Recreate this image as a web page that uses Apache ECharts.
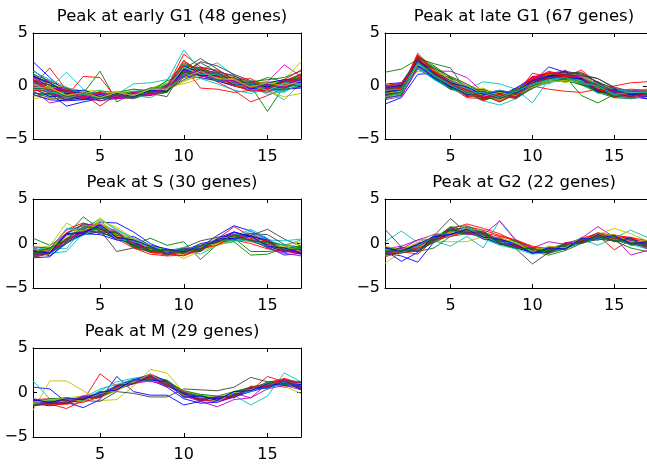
<!DOCTYPE html>
<html>
<head>
<meta charset="utf-8">
<script src="https://cdn.jsdelivr.net/npm/echarts@6/dist/echarts.min.js"></script>
<style>
  html, body { margin: 0; padding: 0; background: #fff; }
  #main { width: 647px; height: 465px; }
</style>
</head>
<body>
<div id="main"></div>
<script>
const timePoints = [1, 2, 3, 4, 5, 6, 7, 8, 9, 10, 11, 12, 13, 14, 15, 16, 17];
const xTicks = [5, 10, 15];
const yTicks = [-5, 0, 5];
const titles = [
  'Peak at early G1 (48 genes)',
  'Peak at late G1 (67 genes)',
  'Peak at S (30 genes)',
  'Peak at G2 (22 genes)',
  'Peak at M (29 genes)'
];

// one row per gene, 17 time points
const earlyG1 = [
  [2.3,0.8,-0.6,-1.0,-1.0,-1.1,-1.0,-0.8,-0.5,1.0,1.1,0.6,0.1,-0.3,-0.1,0.0,0.4],
  [0.5,-0.3,-0.6,-0.7,1.4,-1.5,-0.7,-0.5,-0.2,1.6,1.4,0.9,0.3,0.0,-0.2,0.3,0.9],
  [0.0,1.7,-0.4,-0.9,-0.8,-1.0,-0.9,-0.7,-0.4,1.2,1.0,0.5,0.0,-0.4,-0.3,0.1,0.6],
  [0.6,-0.2,1.3,-0.3,-0.9,-0.7,-0.5,-0.3,0.0,1.8,1.5,0.8,0.2,-0.1,0.2,0.3,0.7],
  [-0.4,-1.6,-1.3,-1.2,-1.1,-1.0,-0.9,-0.6,-0.4,1.1,1.0,0.7,0.3,0.1,0.0,0.2,0.4],
  [-1.2,-1.0,-0.9,-0.8,-0.9,-0.8,-0.7,-0.3,0.2,0.5,0.9,0.8,0.5,0.2,0.1,0.4,1.2],
  [1.0,0.2,-0.5,-0.7,-0.9,-0.8,-0.8,-0.7,-1.0,1.6,2.6,1.6,0.6,0.0,-0.3,-0.1,0.3],
  [0.8,-0.7,-1.9,-1.5,-1.2,-1.0,-0.9,-0.6,-0.3,1.3,1.0,0.6,0.1,-0.2,0.0,0.2,0.5],
  [0.3,-0.1,-0.6,-0.9,-1.0,-1.1,-0.9,-0.4,0.1,1.9,1.7,1.0,0.4,0.1,0.3,0.5,0.8],
  [0.1,-0.4,-0.8,-0.9,-1.0,-0.9,-0.8,-0.6,-0.1,3.0,1.8,1.0,0.2,-0.3,-0.2,0.0,0.6],
  [0.4,-0.3,-0.7,-1.0,-0.8,-0.9,-0.7,-0.5,0.5,3.4,1.5,2.2,1.0,0.3,-0.4,-1.3,0.3],
  [0.2,-0.3,-0.7,-0.8,-0.7,-0.8,-0.7,-0.5,-0.2,1.5,1.3,0.9,0.4,0.2,0.4,2.0,0.9],
  [-0.3,-0.8,-1.0,-1.1,-1.0,-0.9,-0.7,-0.2,0.3,0.9,1.1,0.7,0.3,0.1,0.2,0.6,2.3],
  [0.6,0.1,-0.4,-0.6,-0.7,-0.8,-0.7,-0.6,-0.4,1.7,1.5,1.2,0.7,0.2,-0.1,-0.2,0.2],
  [1.5,0.3,-0.6,-0.9,-1.0,-1.0,-0.9,-0.7,-0.5,0.8,1.2,1.0,0.6,0.1,-0.2,-0.3,-0.2],
  [-0.2,-0.5,-0.8,-0.9,-0.8,-0.7,-0.6,-0.4,-0.1,1.3,1.0,0.6,0.2,0.0,-2.4,0.0,0.5],
  [0.0,-0.6,-1.0,0.9,0.8,-1.2,-0.9,-0.7,-0.3,2.4,1.3,0.4,-0.4,-1.5,-0.9,-0.2,0.4],
  [-0.6,-0.9,-1.1,-1.0,-0.9,-0.8,0.2,0.3,0.6,1.9,1.3,0.8,0.1,-0.3,-0.5,-0.4,0.1],
  [0.9,0.4,-0.2,-0.5,-0.8,-0.9,-0.8,-0.7,-0.5,1.0,1.8,1.4,0.9,0.4,0.1,0.2,0.6],
  [-0.9,-1.2,-1.1,-1.0,-0.9,-0.8,-0.6,-0.4,0.0,0.2,0.7,0.5,0.2,-0.3,-0.6,-1.0,-0.7],
  [0.3,-0.3,-0.9,-1.0,-1.1,-1.0,-0.9,-0.8,-0.6,1.2,2.3,1.9,1.1,0.5,0.2,0.1,0.3],
  [-0.8,-1.3,-1.4,-1.3,-1.2,-1.1,-1.0,-0.8,-0.5,0.9,0.8,0.5,0.0,-0.3,-0.2,0.0,0.3],
  [1.1,0.5,-0.3,-0.6,-0.7,-0.7,-0.6,-0.5,-0.3,1.5,1.6,1.2,0.7,0.4,0.6,0.8,1.4],
  [0.5,-0.2,-0.6,-0.7,-1.9,-0.8,-0.9,-0.9,-0.6,1.8,-0.2,-0.3,-0.6,-0.4,-0.3,0.4,1.0],
  [0.2,-0.6,-0.9,-1.1,-1.2,-1.1,-0.8,-0.3,0.2,2.1,1.6,1.0,0.5,0.0,-0.8,-0.5,0.2],
  [-0.1,-0.7,-1.0,-1.0,-1.0,-1.2,-1.1,-0.8,-0.4,1.4,1.3,1.1,0.6,0.0,-0.2,0.5,1.1],
  [0.7,0.2,-0.2,-0.5,-0.4,-0.7,-0.3,-0.4,0.3,1.1,1.6,1.0,0.8,0.3,0.4,0.2,0.8],
  [-0.6,-1.1,-1.3,-1.1,-1.4,-1.0,-1.2,-0.7,-0.5,0.6,1.2,1.1,0.3,0.2,-0.4,-0.3,-0.1],
  [1.0,-0.2,-0.5,-0.4,-0.9,-0.6,-0.8,-0.2,-0.4,1.9,1.2,0.5,0.5,-0.4,0.1,-0.2,0.6],
  [-0.9,-0.8,-1.3,-0.8,-1.1,-0.6,-0.3,-0.5,0.5,1.0,1.3,0.4,0.7,0.2,0.8,0.4,1.1],
  [0.8,0.3,-0.6,-1.2,-0.5,-0.6,-1.0,-0.9,-0.3,2.0,1.7,1.5,0.6,0.7,-0.2,0.6,1.5],
  [1.4,0.6,-0.1,-0.8,-0.4,-1.1,-0.9,-1.1,-0.4,1.2,0.7,0.2,-0.4,-0.7,-0.3,-0.6,0.3],
  [0.1,-0.6,-1.2,-0.9,-1.4,-1.2,-0.8,-0.9,-0.1,1.6,0.9,0.9,0.0,-0.3,-0.6,0.2,0.0],
  [-0.5,-0.2,-0.9,-0.5,-0.9,-0.5,-0.8,-0.3,-0.4,0.4,1.2,0.7,0.7,0.0,0.3,-0.2,0.9],
  [0.4,0.1,-0.8,-0.6,-1.0,-0.7,-0.9,-0.5,-0.6,1.3,2.2,1.3,1.0,0.0,-0.1,-0.4,0.6],
  [-0.2,-1.0,-0.9,-1.3,-0.8,-1.1,-0.6,-0.8,0.1,0.9,1.5,0.5,0.4,-0.3,0.3,0.6,0.5],
  [1.2,0.0,-0.2,-0.9,-0.6,-0.9,-0.5,-0.7,0.0,2.2,1.5,1.3,0.3,0.3,0.0,0.5,0.4],
  [-0.4,-0.5,-1.1,-0.8,-1.2,-0.8,-0.9,-0.2,-0.2,1.4,1.0,1.0,0.1,-0.5,-0.4,-0.2,0.9],
  [0.3,-0.6,-0.6,-1.0,-0.7,-1.0,-0.5,-0.8,-0.2,1.0,1.3,0.5,0.4,-0.4,-0.1,-0.3,0.4],
  [0.8,-0.2,-0.3,-1.0,-0.7,-1.2,-0.7,-0.9,-0.2,1.5,1.3,1.2,0.3,0.4,-0.2,0.5,0.6],
  [0.1,-0.1,-0.9,-0.7,-1.2,-0.7,-1.0,-0.3,-0.3,1.8,1.1,1.0,0.0,0.0,-0.4,0.2,0.2],
  [-0.7,-0.7,-1.3,-0.9,-1.2,-0.8,-1.1,-0.4,-0.5,0.8,1.6,0.9,0.8,-0.1,0.1,-0.2,0.4],
  [0.9,0.3,-0.7,-0.6,-1.1,-0.7,-1.0,-0.4,-0.5,1.6,1.0,1.0,0.1,0.2,-0.1,0.4,0.3],
  [-0.2,-0.3,-1.0,-0.7,-1.2,-0.8,-1.1,-0.5,-0.6,1.4,1.1,1.1,0.2,0.3,-0.2,0.4,0.8],
  [0.6,-0.4,-0.4,-1.0,-0.6,-1.0,-0.6,-0.8,0.0,2.4,1.2,1.0,0.0,0.0,-0.3,0.4,0.7],
  [-0.3,-0.4,-1.1,-0.8,-1.1,-0.6,-0.9,-0.2,-0.2,1.7,1.1,1.1,0.2,0.2,-0.4,0.3,0.2],
  [0.4,-0.5,-0.5,-1.1,-0.7,-1.1,-0.6,-0.8,-0.1,1.1,1.4,0.6,0.5,-0.2,0.1,-0.1,0.7],
  [-0.1,-0.2,-0.9,-0.6,-1.1,-0.6,-0.9,-0.3,-0.3,0.8,1.4,0.7,0.6,-0.1,0.3,0.0,0.5]
];

const lateG1 = [
  [-1.7,-1.1,1.1,1.2,0.3,-0.4,-0.7,-0.9,-0.6,0.1,0.6,0.8,0.5,-0.2,-0.6,-0.8,-0.6],
  [1.3,1.6,2.5,1.8,0.6,-0.2,-0.6,-0.8,-0.7,0.3,0.9,1.0,0.6,-0.1,-0.5,-0.6,-0.4],
  [-0.6,-0.3,3.1,1.5,0.1,-0.8,-1.0,-1.1,-0.8,1.2,0.9,0.7,0.3,-0.3,-0.7,-0.9,-0.7],
  [-0.2,0.1,2.4,1.0,-0.2,-0.3,0.4,0.2,-0.3,-1.6,0.6,1.0,0.7,0.0,-0.4,-0.6,-0.5],
  [-0.9,-0.5,2.0,1.4,1.4,0.8,-0.6,-0.9,-0.7,0.2,0.8,1.1,0.8,-0.2,-0.9,-1.0,-0.8],
  [-0.4,-0.6,1.7,1.1,0.5,-0.2,-0.6,-0.9,-0.8,0.0,0.5,0.7,0.4,-0.3,-0.8,-0.9,-0.6],
  [-0.3,0.0,2.2,1.3,0.2,-0.5,-0.8,-1.0,-0.9,0.5,1.2,1.4,1.1,0.7,-0.2,-0.6,-0.7],
  [0.2,0.3,1.9,0.9,0.0,-0.6,-0.9,-1.0,-0.7,0.3,1.8,1.3,0.8,-0.1,-0.5,-0.8,-0.9],
  [-0.5,-0.2,2.6,2.1,1.7,-0.5,-0.8,-0.9,-0.6,0.4,0.7,0.9,-0.9,-1.6,-0.8,-0.7,-0.5],
  [-1.0,-0.7,2.8,1.2,-0.1,-1.1,-1.2,-1.1,-0.9,0.0,-0.3,-0.5,-0.6,-0.3,0.0,0.3,0.4],
  [0.0,0.2,2.1,0.6,-0.3,-0.8,-1.4,-1.8,-1.2,0.1,0.5,0.6,0.3,-0.4,-0.9,-1.1,-0.8],
  [-0.6,-0.4,2.3,1.0,0.0,-0.6,-0.9,-1.0,-0.8,0.6,1.0,0.9,0.4,-0.3,-0.7,-1.0,-0.9],
  [-0.8,-0.5,1.8,0.8,0.1,-0.5,-0.7,-0.8,-0.5,-0.1,0.4,0.6,0.5,0.0,-0.4,-0.5,-0.3],
  [-0.2,0.1,2.4,1.5,0.6,-0.1,-0.5,-0.7,-0.6,0.2,1.0,1.3,1.0,0.7,-0.1,-0.5,-0.4],
  [-1.1,-0.9,1.6,0.7,-0.2,-0.7,-1.1,-1.2,-0.9,-0.2,0.4,0.5,0.2,-0.4,-0.8,-1.0,-1.2],
  [-0.4,-0.1,2.0,1.0,0.3,-0.3,-0.6,-0.7,-0.5,0.3,0.8,0.8,0.3,-0.6,-0.9,-0.8,-0.6],
  [-0.5,-0.2,2.7,1.3,0.1,-0.6,-0.9,-1.1,-0.8,0.9,1.1,0.9,1.5,0.2,-0.6,-0.9,-0.8],
  [-0.7,-0.4,2.2,0.8,-0.1,-0.5,-0.8,-0.8,-0.6,0.0,0.7,0.9,0.6,-0.1,-0.6,-0.8,-0.7],
  [0.1,0.0,2.5,1.6,0.4,-0.3,-0.7,-0.9,-0.7,0.4,0.9,0.7,0.2,-0.5,-1.0,-1.1,-0.9],
  [-0.3,-0.3,1.4,1.2,0.8,0.1,-0.4,-0.6,-0.6,0.1,0.6,0.7,0.6,0.1,-0.3,-0.6,-0.5],
  [-0.6,-0.1,2.3,0.8,0.5,-0.6,-0.4,-0.9,-0.2,0.3,1.1,1.2,1.3,0.3,-0.2,-0.9,-0.8],
  [-1.0,-0.4,1.8,1.2,-0.3,-0.4,-1.1,-0.7,-1.0,0.4,0.3,1.0,0.2,-0.1,-1.0,-0.8,-1.2],
  [-0.2,0.3,2.6,0.9,0.5,-0.7,-0.5,-1.2,-0.4,-0.1,0.9,0.5,0.8,-0.5,-0.4,-1.1,-0.4],
  [-1.2,-0.3,2.9,1.6,-0.2,-0.6,-1.4,-0.8,-0.5,0.7,1.2,0.4,0.6,-0.4,-0.9,-0.5,-0.8],
  [-0.3,-0.6,1.9,1.2,0.4,-0.8,-0.5,-1.2,-0.9,0.3,0.2,1.0,0.2,0.2,-0.7,-1.0,-0.3],
  [-0.7,0.0,2.4,0.9,0.0,-0.2,-1.1,-0.7,-1.0,0.0,1.1,0.7,1.0,-0.3,-0.4,-1.2,-0.9],
  [0.3,-0.2,2.1,1.3,0.7,-0.5,-0.3,-1.0,-0.3,0.5,0.3,0.9,0.1,-0.1,-0.9,-0.6,-0.4],
  [-0.9,-0.3,2.0,1.4,-0.3,-0.3,-1.2,-0.7,-1.1,-0.2,1.0,0.6,0.9,0.2,-0.8,-0.7,-1.0],
  [0.0,-0.3,2.5,1.1,0.8,-0.6,-0.3,-1.0,-0.2,0.8,1.0,1.4,0.5,0.1,-0.5,-1.0,-0.5],
  [-0.8,0.0,1.9,1.4,-0.1,-0.2,-1.1,-0.6,-0.9,0.0,0.8,0.4,0.6,-0.6,-0.5,-0.5,-0.7],
  [-0.2,-0.3,2.6,0.8,0.2,-1.0,-0.7,-1.4,-0.6,0.6,0.7,1.2,0.3,0.0,-1.0,-0.7,-0.9],
  [-1.0,-0.3,1.6,1.0,-0.3,-0.1,-0.9,-0.4,-0.9,-0.2,0.9,0.6,0.8,-0.3,-0.3,-0.9,-0.4],
  [0.0,-0.2,2.9,1.2,0.6,-0.9,-0.6,-1.3,-0.4,0.9,0.8,1.5,0.5,0.3,-0.8,-0.6,-1.0],
  [-0.7,0.0,1.8,1.4,0.0,0.0,-0.9,-0.5,-0.9,-0.3,0.8,0.3,0.7,-0.5,-0.4,-1.0,-0.3],
  [-0.2,-0.5,2.7,0.9,0.5,-0.8,-0.4,-1.2,-0.4,0.6,0.6,1.3,0.4,0.4,-0.7,-0.5,-0.9],
  [-0.8,-0.1,2.0,1.3,-0.2,-0.2,-1.1,-0.6,-1.0,-0.1,1.1,0.6,0.8,-0.5,-0.3,-1.0,-0.5],
  [0.1,-0.3,2.5,1.0,0.7,-0.6,-0.3,-1.1,-0.3,0.6,0.5,1.2,0.3,0.1,-0.9,-0.6,-0.8],
  [-0.9,-0.2,2.8,1.5,-0.1,-0.4,-1.2,-0.8,-1.0,0.2,1.1,0.5,0.8,-0.4,-0.5,-1.1,-0.6],
  [-0.1,-0.4,1.8,0.7,0.3,-0.7,-0.4,-1.1,-0.4,0.4,0.4,1.1,0.3,0.2,-0.8,-0.5,-0.9],
  [-1.1,-0.3,2.3,1.3,0.0,-0.3,-1.1,-0.6,-0.9,0.0,0.9,0.6,0.9,-0.4,-0.3,-0.9,-0.5],
  [-0.2,0.2,2.6,1.6,0.6,-0.3,-0.2,-0.9,-0.3,0.4,1.1,1.2,0.9,0.2,-0.4,-0.5,-0.4],
  [-0.9,-0.7,2.0,0.7,-0.3,-0.6,-1.3,-0.9,-1.2,-0.2,0.4,0.6,0.2,-0.5,-0.9,-1.0,-0.8],
  [-0.4,0.0,2.1,1.2,0.0,-0.6,-0.5,-1.1,-0.4,0.3,0.9,1.0,0.6,-0.4,-0.3,-0.8,-0.6],
  [-1.2,-0.8,2.7,1.6,0.4,-0.9,-0.8,-1.5,-0.7,-0.1,0.5,0.6,0.1,-0.6,-1.1,-1.2,-1.0],
  [0.0,0.3,2.3,1.1,0.1,-0.4,-1.1,-0.8,-0.9,0.7,1.3,1.1,0.6,0.2,-0.5,-0.3,-0.4],
  [-0.6,-0.4,1.7,0.6,-0.2,-0.9,-0.7,-1.3,-0.6,0.2,0.5,0.5,0.2,-0.7,-0.8,-1.2,-0.9],
  [-0.3,-0.1,2.4,1.3,0.5,0.0,-0.7,-0.4,-0.7,0.5,0.9,1.1,0.8,0.1,-0.6,-0.4,-0.5],
  [-1.0,-0.6,2.2,1.2,0.1,-0.9,-0.8,-1.3,-0.6,0.0,0.5,0.8,0.3,-0.3,-0.7,-1.1,-0.8],
  [-0.1,0.0,2.5,1.4,0.4,-0.4,-0.4,-0.9,-0.3,0.1,0.6,1.0,1.0,0.4,-0.3,-0.6,-0.6],
  [-0.8,-0.5,1.9,0.8,-0.1,-0.4,-1.1,-0.8,-1.0,0.3,0.9,0.8,0.3,-0.1,-0.9,-0.8,-1.0],
  [-0.3,-0.1,2.8,1.9,0.8,0.0,-0.8,-0.6,-0.8,0.2,0.6,0.7,0.6,-0.4,-0.4,-0.9,-0.5],
  [-0.6,-0.5,2.5,1.2,0.2,-1.0,-0.9,-1.5,-0.8,0.6,1.4,1.0,0.5,-0.3,-1.0,-0.7,-0.7],
  [-0.2,-0.2,2.0,1.3,0.4,0.0,-0.7,-0.4,-0.7,-0.1,0.3,0.6,0.8,0.1,-0.4,-0.5,-0.5],
  [-1.3,-1.0,1.8,1.0,0.0,-0.5,-1.1,-0.8,-1.0,0.2,0.8,0.9,0.3,-0.4,-0.8,-1.1,-0.9],
  [-0.5,-0.2,2.3,0.9,0.3,-0.5,-0.4,-0.9,-0.4,0.1,0.6,0.5,0.5,-0.2,-0.5,-0.6,-0.5],
  [-0.6,-0.3,2.1,1.7,0.9,0.2,-0.7,-0.6,-0.9,0.0,0.7,1.1,1.2,0.3,-0.5,-0.8,-0.8],
  [-0.2,0.1,2.6,1.2,0.0,-0.8,-0.6,-1.1,-0.5,0.5,1.0,0.9,0.6,-0.5,-0.6,-1.0,-0.7],
  [-0.7,-0.4,2.2,0.9,-0.2,-0.6,-1.3,-1.0,-1.1,0.0,0.4,0.6,0.1,-0.3,-1.1,-0.7,-0.8],
  [-0.4,-0.2,2.9,1.4,0.3,-0.7,-0.6,-1.1,-0.5,0.8,1.2,1.0,0.7,0.0,-0.5,-0.6,-0.5],
  [-1.0,-0.7,2.1,1.0,0.1,-0.2,-0.8,-0.5,-0.7,0.1,0.6,0.9,0.5,0.2,-0.7,-0.5,-0.7],
  [-0.1,0.2,2.2,1.1,0.2,-0.7,-0.6,-1.1,-0.4,0.2,0.7,0.9,0.8,-0.3,-0.4,-1.0,-0.7],
  [-0.7,-0.5,2.0,1.5,0.6,0.0,-0.8,-0.6,-0.9,-0.1,0.4,0.5,0.3,-0.1,-0.9,-0.6,-0.6],
  [-0.3,-0.1,2.3,1.0,0.0,-0.9,-0.7,-1.2,-0.6,0.4,1.0,1.3,0.6,0.1,-0.7,-1.0,-0.6],
  [-0.6,-0.3,2.4,1.2,0.3,-0.1,-0.8,-0.5,-0.7,0.2,0.7,0.8,0.7,-0.4,-0.4,-0.8,-0.7],
  [-0.9,-0.6,2.3,1.1,0.2,-0.6,-0.5,-1.0,-0.4,0.2,0.7,0.9,0.3,-0.1,-0.9,-0.5,-0.6],
  [-0.5,-0.2,2.6,1.3,0.2,-0.4,-1.1,-0.8,-1.0,0.3,0.8,0.9,0.8,-0.4,-0.5,-1.0,-0.7],
  [-0.4,-0.3,2.2,1.0,0.1,-0.7,-0.6,-1.1,-0.5,0.2,0.6,0.8,0.3,0.0,-0.8,-0.6,-0.6]
];

const phaseS = [
  [-1.2,-0.9,0.5,1.0,2.4,2.3,1.3,0.0,-0.8,-0.9,-0.4,0.9,2.0,1.4,0.5,-0.8,-1.2],
  [0.6,-0.2,0.9,3.0,1.6,0.7,-0.2,0.6,-0.2,0.2,-1.8,-0.1,0.2,-1.3,-1.2,-0.5,-0.3],
  [-1.0,-0.8,1.2,1.8,2.1,1.0,0.1,-0.8,-1.1,-1.0,-0.6,0.5,1.9,0.8,-0.2,-0.6,-0.9],
  [-1.4,-1.1,-0.9,1.2,2.5,1.2,0.2,-0.5,-0.9,-1.2,-0.8,0.2,0.6,1.4,0.3,-0.2,0.4],
  [-0.7,-0.6,1.5,2.0,1.8,0.9,-0.1,-0.7,-1.0,-0.9,-0.6,0.4,0.9,0.6,-0.3,-0.9,-0.7],
  [-0.5,-0.3,2.3,1.3,2.9,1.4,0.4,-0.3,-0.8,-1.7,-0.8,0.0,0.4,0.2,-0.2,-0.4,-0.5],
  [-0.9,-1.0,0.3,1.6,1.5,-0.9,-0.5,-0.9,-1.0,-0.7,-0.2,0.5,0.8,0.9,1.6,0.5,-0.3],
  [-1.6,-1.5,0.2,1.0,1.3,0.6,-0.2,-0.8,-1.1,-0.9,-0.5,0.2,0.6,0.3,-0.4,-1.3,-1.1],
  [-0.8,-0.7,0.6,1.7,1.9,1.1,0.3,-0.4,-0.8,-0.6,-0.3,0.3,0.6,-0.9,-0.9,-0.7,-0.8],
  [-1.3,-1.2,0.4,1.4,1.6,0.7,-0.3,-1.0,-1.3,-1.0,-0.5,0.6,1.0,0.4,-0.1,-0.6,-1.1],
  [-1.1,-0.5,-0.6,1.8,2.7,1.6,0.5,-0.3,-0.7,-0.8,-1.2,-0.2,0.5,1.2,0.4,0.3,0.5],
  [-0.6,-0.8,1.0,1.3,1.7,1.0,0.1,-0.6,-1.0,-1.1,-0.7,0.1,0.7,1.1,0.2,-0.8,-1.2],
  [-0.3,-0.6,0.8,1.5,2.6,1.8,0.6,-0.2,-0.8,-1.3,-0.9,-0.2,0.3,0.5,0.0,-0.2,0.2],
  [-1.0,-1.1,0.5,1.2,1.3,0.5,0.0,-0.5,-0.8,-0.5,0.3,0.7,0.9,1.1,1.0,-0.1,-0.5],
  [-0.8,-1.4,0.0,1.1,1.0,0.4,0.8,-0.2,-0.6,-1.0,-0.9,0.6,1.3,0.7,-0.2,-1.0,-0.7],
  [-1.2,-0.8,1.1,2.2,2.0,0.9,-0.4,-0.9,-0.9,-0.8,-0.4,0.4,1.0,0.9,0.2,-0.5,-0.9],
  [-0.9,-0.6,1.6,2.3,1.8,0.5,-0.5,-1.2,-1.4,-1.3,-0.6,0.1,0.4,0.0,-0.6,-0.9,-1.0],
  [-1.5,-1.2,0.1,0.9,1.8,1.5,0.6,-0.3,-0.9,-0.7,-0.2,0.5,0.8,1.6,0.6,-0.6,-0.8],
  [-0.4,-0.5,1.2,2.1,2.2,1.3,0.2,-0.6,-1.2,-1.1,-0.7,0.3,1.2,0.8,-0.5,-1.1,-1.4],
  [-0.6,-1.2,0.9,1.5,2.5,1.0,0.6,-0.7,-0.8,-1.2,-0.3,0.0,0.9,0.2,0.3,-0.5,0.0],
  [-1.3,-1.0,0.1,1.7,1.1,0.9,-0.4,-0.5,-1.3,-0.6,-0.7,0.6,0.4,0.9,0.2,-0.2,-1.1],
  [-0.5,-1.1,1.1,1.3,1.9,0.4,0.2,-0.8,-0.7,-0.9,0.0,0.3,1.3,0.8,0.4,-0.8,-0.8],
  [-1.2,-0.5,0.4,2.3,1.4,0.9,-0.4,-0.5,-1.2,-0.7,-0.8,0.5,0.3,0.5,-0.5,-0.5,-0.4],
  [-1.6,-1.1,0.5,1.2,2.3,0.8,0.4,-1.0,-1.1,-1.4,-0.6,-0.2,0.9,0.6,0.3,-0.7,-1.0],
  [-0.4,-0.7,1.7,1.6,2.0,0.5,0.2,-0.3,-1.0,-0.4,-0.6,0.5,0.3,0.4,-0.3,-0.1,-0.6],
  [-1.4,-0.8,0.3,1.6,1.6,1.3,-0.1,-0.8,-0.8,-1.1,-0.3,0.2,1.0,0.4,0.0,-0.9,-0.7],
  [-0.6,-0.9,1.6,1.4,2.3,0.8,0.5,-0.2,-1.1,-0.6,-0.5,0.6,0.7,0.7,-0.3,-0.3,-0.9],
  [-1.5,-1.0,0.0,1.4,1.3,1.2,-0.1,-0.8,-0.7,-1.0,-0.2,0.2,0.9,0.3,0.2,-0.8,-0.6],
  [-0.8,-1.1,1.0,1.2,2.1,0.7,0.4,-0.3,-1.1,-0.6,-0.6,0.5,0.6,0.8,-0.3,-0.5,-1.1],
  [-1.1,-0.5,0.4,1.9,1.6,1.2,-0.2,-0.8,-0.8,-1.1,-0.3,0.1,0.9,0.3,0.1,-0.7,-0.5]
];

const phaseG2 = [
  [-1.1,-1.4,-2.1,0.2,1.2,1.3,0.8,0.1,-0.4,-0.9,-0.8,-0.5,0.2,0.6,0.4,0.0,-0.4],
  [-0.9,-0.6,-0.9,0.5,1.8,2.0,1.2,0.4,-0.3,-1.0,-1.1,-0.6,0.4,1.2,0.9,0.2,-0.3],
  [-1.2,-0.9,-0.4,0.7,1.6,2.2,1.7,1.1,0.2,-0.5,-0.9,-0.4,0.3,0.9,-0.7,0.4,0.2],
  [0.2,1.4,0.1,0.3,-0.3,0.8,-0.5,2.6,0.4,-0.6,-0.8,-0.2,0.5,-0.2,0.6,1.5,0.7],
  [-0.6,-0.3,0.4,1.0,1.1,1.3,1.0,2.5,0.3,-0.5,0.2,-0.1,0.6,1.9,0.7,-1.3,-0.8],
  [-2.2,-1.0,-0.6,0.3,0.2,0.2,0.8,0.7,-0.1,-0.7,-0.6,-0.2,0.5,1.0,1.7,1.1,0.3],
  [1.6,-0.4,-0.8,0.9,2.8,1.2,0.6,0.0,-0.6,-2.3,-1.0,-0.6,0.1,0.5,0.3,0.0,-0.2],
  [-0.8,-2.0,-1.0,0.6,1.5,1.8,1.1,0.3,-0.3,-1.1,-0.9,-0.4,0.2,0.7,0.6,0.3,-0.1],
  [-1.3,-1.1,-0.6,0.1,1.0,1.5,1.0,0.2,-0.4,-0.9,-1.3,-0.8,0.0,0.5,0.3,-0.5,-0.9],
  [-0.5,-0.8,-0.3,0.8,1.4,1.6,1.2,0.8,0.3,-0.4,-0.7,-0.2,0.6,1.1,0.8,0.4,0.1],
  [-1.0,-0.7,-0.6,0.5,1.2,1.4,0.5,-0.1,-0.5,-0.9,-0.6,0.0,0.5,0.8,0.5,0.0,-0.3],
  [-0.9,-0.6,0.4,0.4,1.0,1.2,0.9,0.3,-0.4,-1.0,-0.8,-0.5,0.1,0.5,0.4,0.1,-0.4],
  [-0.7,-0.5,-0.2,0.7,1.3,1.5,1.1,0.5,0.0,-0.6,-0.5,-0.1,0.4,0.9,1.0,0.6,0.2],
  [-0.4,-0.7,-0.6,0.6,1.5,1.6,1.0,0.2,-0.3,-0.8,-0.7,-0.3,0.3,0.6,0.5,0.2,-0.1],
  [-1.3,-1.0,-0.8,0.4,1.1,1.3,0.7,0.0,-0.5,-1.0,-0.9,-0.5,0.2,0.8,0.9,0.5,0.0],
  [-0.8,-0.6,-0.9,-0.5,0.8,1.1,0.8,0.3,-0.2,-0.7,-0.8,-0.3,0.4,1.0,0.6,0.1,-0.5],
  [-1.0,-0.8,-0.5,0.3,1.3,1.9,1.5,0.9,0.4,-0.3,-0.6,-0.1,0.5,0.8,0.9,0.7,0.3],
  [-0.6,-0.9,-0.7,0.5,1.4,1.3,0.6,-0.2,-0.6,-1.2,-1.0,-0.5,0.1,0.6,0.4,-0.1,-0.6],
  [-0.5,-0.9,-0.1,0.6,1.8,1.1,1.2,0.1,0.2,-0.9,-0.4,-0.5,0.6,0.6,1.0,0.0,0.3],
  [-1.3,-0.6,-0.8,0.9,0.9,1.6,0.6,0.6,-0.5,-0.6,-1.0,0.0,0.1,1.1,0.4,0.5,-0.4],
  [-0.5,-1.0,-0.2,0.4,1.7,1.2,1.3,-0.1,-0.1,-1.1,-0.5,-0.6,0.5,0.4,0.8,-0.2,0.0],
  [-1.2,-0.5,-0.9,0.8,1.0,1.7,0.5,0.5,-0.4,-0.6,-1.0,0.0,0.1,1.0,0.3,0.6,-0.3],
  [-0.4,-0.8,0.0,0.5,1.9,1.4,1.4,0.3,0.3,-0.8,-0.4,-0.7,0.5,0.4,0.8,-0.1,0.1],
  [-1.5,-0.9,-1.2,0.4,0.8,1.4,0.7,0.7,-0.3,-0.5,-1.1,0.1,0.3,1.2,0.5,0.7,-0.1],
  [-0.6,-1.0,-0.3,0.9,1.1,1.9,0.8,0.1,0.1,-1.1,-0.4,-0.5,0.7,0.5,0.9,0.0,0.3],
  [-1.2,-0.6,-0.9,0.2,1.5,1.0,1.1,0.4,-0.5,-0.6,-1.0,0.1,0.0,0.9,0.2,0.4,-0.6],
  [-0.3,-0.7,0.1,1.1,1.2,1.7,0.6,0.6,0.1,-0.9,-0.3,-0.5,0.7,0.6,1.0,0.2,0.3],
  [-1.1,-0.4,-0.8,0.5,1.6,1.2,1.3,0.0,-0.5,-0.6,-1.1,-0.1,0.1,1.0,0.3,0.5,-0.3],
  [-0.5,-0.9,-0.1,0.8,1.0,1.6,0.7,0.5,-0.1,-1.1,-0.5,-0.6,0.6,0.6,0.9,0.0,0.2],
  [-1.3,-0.7,-0.9,0.3,1.5,1.1,1.1,0.1,-0.5,-0.6,-0.9,0.0,0.0,0.8,0.3,0.5,-0.4]
];

const phaseM = [
  [0.6,0.4,-1.1,-1.7,-0.8,1.8,0.1,-0.3,-0.3,-1.4,-1.0,-0.6,-0.1,0.5,0.9,1.3,0.9],
  [-1.3,-1.1,-0.9,-0.6,-0.2,0.6,1.3,1.8,1.2,0.1,-0.4,-0.9,-0.4,0.3,0.6,0.9,0.5],
  [-0.9,-1.3,-1.8,-0.9,2.1,0.7,1.4,1.9,1.1,-0.3,-0.8,-1.0,-0.5,0.2,1.8,1.2,0.6],
  [1.3,-0.7,-1.0,-0.8,0.2,1.2,1.6,1.9,1.0,-0.1,-0.5,-0.6,-0.3,-1.4,-0.4,2.2,1.2],
  [-1.1,-0.9,-0.8,-0.5,-0.1,0.7,1.2,1.5,0.8,-0.4,-1.0,-1.6,-0.8,-0.6,0.4,0.8,0.3],
  [-2.0,1.3,1.3,0.2,-0.9,-0.8,0.7,2.6,2.2,0.0,-0.7,-0.9,-0.4,0.3,0.9,0.7,-0.1],
  [-0.8,-1.2,-1.1,-0.9,-1.0,0.1,-0.1,-0.5,-0.5,0.4,0.3,0.2,0.6,1.7,1.2,1.4,1.0],
  [-1.2,-1.5,-1.2,-0.8,-0.4,0.4,1.1,1.4,0.6,-0.7,-1.2,-1.1,-0.5,0.1,0.6,1.0,0.8],
  [-1.5,-1.2,-1.0,-0.7,-0.3,0.3,1.0,1.7,1.4,0.1,-0.4,-0.6,-0.1,0.5,0.9,1.1,0.4],
  [-1.0,-0.9,-1.3,-1.1,-0.5,0.5,1.3,2.1,1.2,-0.2,-0.9,-0.8,-0.3,0.4,1.1,1.5,0.9],
  [-0.7,-1.0,-0.8,-0.6,0.4,0.9,1.5,1.8,0.9,-0.4,-0.6,-0.8,-0.4,0.2,0.7,1.0,0.6],
  [-1.4,-1.3,-1.0,-0.8,-0.2,0.4,1.0,1.3,0.8,-0.1,-0.7,-0.7,0.0,0.6,0.8,1.3,1.1],
  [-1.1,-0.8,-0.6,-0.4,-0.6,0.2,1.2,1.9,1.3,0.2,-0.3,-0.5,-0.1,0.5,1.0,1.2,0.8],
  [-1.0,-0.9,-0.9,-0.7,-0.3,0.6,1.2,1.6,1.0,-0.2,-0.7,-0.9,-0.3,0.4,0.8,1.0,0.6],
  [-0.9,-1.1,-1.0,-0.6,-0.2,0.8,1.4,2.0,1.3,0.0,-0.5,-0.7,-0.2,0.3,0.7,1.1,0.7],
  [-1.2,-1.0,-0.8,-0.8,-0.5,0.3,1.1,1.5,1.1,0.2,-0.2,-0.4,0.1,0.6,1.0,1.4,1.2],
  [-0.8,-0.7,-1.0,-0.9,-0.4,0.6,1.3,1.7,1.0,-0.3,-0.9,-1.0,-0.4,0.3,0.9,1.6,1.0],
  [-1.4,-0.9,-1.2,-0.5,-0.4,0.8,1.0,1.9,0.7,0.2,-0.8,-0.4,-0.5,0.6,0.4,1.2,0.3],
  [-0.7,-1.2,-0.6,-0.9,0.0,0.2,1.4,1.2,1.2,-0.6,-0.5,-1.1,-0.1,-0.6,1.0,0.6,0.9],
  [-1.2,-0.8,-1.1,-0.4,-0.5,0.9,1.1,2.1,0.8,0.1,-0.9,-0.4,-0.5,0.7,0.5,1.4,0.4],
  [-1.5,-1.3,-0.7,-1.0,-0.1,0.2,1.5,1.3,1.3,-0.4,-0.4,-1.0,0.1,0.3,1.2,0.9,1.1],
  [-0.9,-1.2,-1.2,-0.4,-0.5,0.8,1.0,1.9,0.8,-0.1,-0.9,-0.5,-0.6,0.5,0.5,1.3,0.3],
  [-1.1,-0.7,-0.6,-0.9,0.1,0.3,1.4,1.3,1.3,-0.4,-0.3,-0.9,0.1,0.2,1.1,0.9,1.0],
  [-1.0,-1.4,-1.3,-0.6,-0.6,0.7,1.0,1.7,0.7,0.1,-0.8,-0.5,-0.5,0.7,0.7,1.5,0.4],
  [-1.3,-0.8,-0.7,-0.9,0.0,0.4,1.5,1.4,1.2,-0.5,-0.4,-1.0,0.0,0.1,1.1,0.8,1.0],
  [-0.9,-1.2,-1.1,-0.4,-0.4,0.7,1.0,1.9,0.9,0.0,-0.7,-0.5,-0.4,0.5,0.6,1.4,0.5],
  [-1.1,-0.8,-0.7,-1.0,-0.1,0.2,1.3,1.3,1.2,-0.4,-0.5,-1.0,0.0,0.3,1.0,0.7,1.0],
  [-1.4,-1.1,-1.2,-0.6,-0.5,0.8,1.0,1.8,0.8,0.0,-0.8,-0.5,-0.4,0.6,0.6,1.3,0.5],
  [-0.8,-1.1,-0.7,-0.8,0.0,0.3,1.4,1.4,1.2,-0.5,-0.4,-0.9,0.1,0.2,1.0,0.8,0.9]
];

const panels = [earlyG1, lateG1, phaseS, phaseG2, phaseM];

// MATLAB default line color order
const lineColors = ['#0000ff', '#008000', '#ff0000', '#00bfbf', '#bf00bf', '#bfbf00', '#404040'];

// axes boxes, in pixels
const boxes = [
  { left: 33, top: 33, width: 268, height: 106 },
  { left: 385, top: 33, width: 268, height: 106 },
  { left: 33, top: 199, width: 268, height: 89 },
  { left: 385, top: 199, width: 268, height: 89 },
  { left: 33, top: 348, width: 268, height: 89 }
];
const titleTops = [3, 169, 318];

const font = 'DejaVu Sans';
const chart = echarts.init(document.getElementById('main'), null, { width: 647, height: 465, renderer: 'canvas' });

const grid = [];
const xAxis = [];
const yAxis = [];
const title = [];
const series = [];

boxes.forEach((b, p) => {
  grid.push({ left: b.left, top: b.top, width: b.width, height: b.height, containLabel: false });

  title.push({
    text: titles[p],
    left: b.left + b.width / 2,
    top: titleTops[Math.floor(p / 2)],
    textAlign: 'center',
    textStyle: { fontFamily: font, fontSize: 16.5, fontWeight: 'normal', color: '#000' }
  });

  const line = { show: true, onZero: false, lineStyle: { color: '#000', width: 1 } };
  const tick = { show: true, inside: true, length: 4, lineStyle: { color: '#000', width: 1 } };

  // bottom and top x axes
  xAxis.push({
    gridIndex: p, type: 'value', position: 'bottom', min: 1, max: 17,
    axisLine: line,
    axisTick: Object.assign({ customValues: xTicks }, tick),
    axisLabel: { customValues: xTicks, fontFamily: font, fontSize: 16, color: '#000', margin: 10 },
    splitLine: { show: false }
  });
  xAxis.push({
    gridIndex: p, type: 'value', position: 'top', min: 1, max: 17,
    axisLine: line,
    axisTick: Object.assign({ customValues: xTicks }, tick),
    axisLabel: { show: false },
    splitLine: { show: false }
  });

  // left and right y axes
  yAxis.push({
    gridIndex: p, type: 'value', position: 'left', min: -5, max: 5, interval: 5,
    axisLine: line,
    axisTick: Object.assign({ customValues: yTicks }, tick),
    axisLabel: {
      customValues: yTicks, fontFamily: font, fontSize: 16, color: '#000', margin: 5,
      formatter: v => (v < 0 ? '\u2212' + Math.abs(v) : String(v))
    },
    splitLine: { show: false }
  });
  yAxis.push({
    gridIndex: p, type: 'value', position: 'right', min: -5, max: 5, interval: 5,
    axisLine: line,
    axisTick: Object.assign({ customValues: yTicks }, tick),
    axisLabel: { show: false },
    splitLine: { show: false }
  });

  panels[p].forEach((gene, g) => {
    series.push({
      type: 'line',
      xAxisIndex: p * 2,
      yAxisIndex: p * 2,
      data: gene.map((v, i) => [timePoints[i], v]),
      symbol: 'none',
      silent: true,
      clip: true,
      lineStyle: { width: 0.9, color: lineColors[g % lineColors.length] }
    });
  });
});

chart.setOption({
  animation: false,
  backgroundColor: '#fff',
  title: title,
  grid: grid,
  xAxis: xAxis,
  yAxis: yAxis,
  series: series
});
</script>
</body>
</html>
